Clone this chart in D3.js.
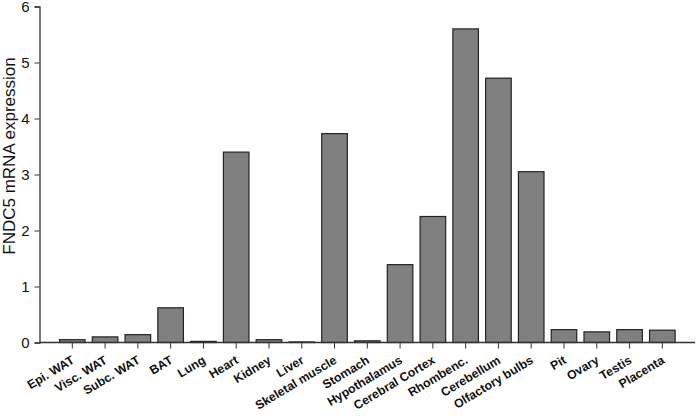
<!DOCTYPE html>
<html><head><meta charset="utf-8">
<script src="https://cdn.jsdelivr.net/npm/d3@7"></script>
<style>body{margin:0;background:#fff}svg{display:block}</style>
</head><body>
<svg id="c" width="697" height="416"></svg>
<script>
const categories = ["Epi. WAT","Visc. WAT","Subc. WAT","BAT","Lung","Heart","Kidney","Liver","Skeletal muscle","Stomach","Hypothalamus","Cerebral Cortex","Rhombenc.","Cerebellum","Olfactory bulbs","Pit","Ovary","Testis","Placenta"];
const values = [0.05,0.10,0.14,0.62,0.02,3.40,0.05,0.01,3.73,0.03,1.39,2.25,5.60,4.72,3.05,0.23,0.19,0.23,0.22];
const yTicks = [0,1,2,3,4,5,6];
const yLabel = "FNDC5 mRNA expression";

const svg = d3.select("#c");
const step = 32.78;
const x = d3.scaleBand().domain(categories).range([55.9, 55.9 + step*categories.length]).paddingInner(0.22).paddingOuter(0.11);
const y = d3.scaleLinear().domain([0,6]).range([342.5, 6.5]);

svg.append("g").selectAll("rect").data(values).join("rect")
  .attr("x",(d,i)=>x(categories[i]))
  .attr("y",d=>y(d))
  .attr("width",x.bandwidth())
  .attr("height",d=>y(0)-y(d))
  .attr("fill","#808080").attr("stroke","#222").attr("stroke-width",1.2);

const yAxis = svg.append("g").attr("transform","translate(39.5,0)")
  .call(d3.axisLeft(y).tickValues(yTicks).tickSize(5).tickPadding(5).tickFormat(d3.format("d")));
yAxis.select(".domain").attr("stroke","#333").attr("stroke-width",1.3);
yAxis.selectAll(".tick line").attr("stroke","#333");
yAxis.selectAll("text").attr("font-family","Liberation Sans, Arial, sans-serif").attr("font-size",15).attr("fill","#111");

const xAxis = svg.append("g").attr("transform","translate(0,342.5)")
  .call(d3.axisBottom(x).tickSize(6).tickSizeOuter(0));
xAxis.select(".domain").attr("d","M39.5,0H695").attr("stroke","#333").attr("stroke-width",1.3);
xAxis.selectAll(".tick line").attr("stroke","#333");
xAxis.selectAll("text")
  .attr("font-family","Liberation Sans, Arial, sans-serif").attr("font-size",12.3).attr("font-weight","bold").attr("fill","#111")
  .attr("text-anchor","end").attr("dy",null).attr("y",0)
  .attr("transform","translate(3,20) rotate(-31)");

svg.append("text").attr("transform","translate(15,156) rotate(-90)")
  .attr("text-anchor","middle").attr("font-family","Liberation Sans, Arial, sans-serif").attr("font-size",17).attr("fill","#111")
  .text(yLabel);
</script>
</body></html>
